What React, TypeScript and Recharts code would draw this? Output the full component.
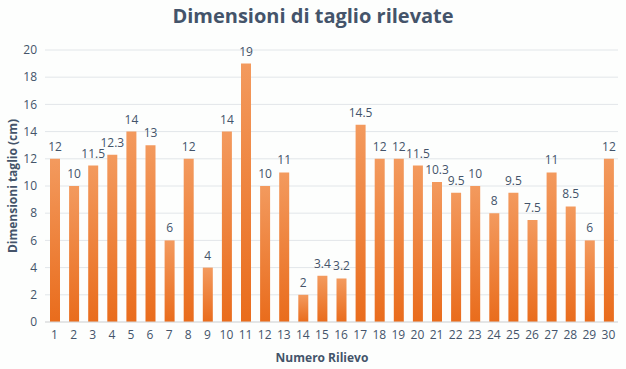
import React from "react";
import { BarChart, Bar, XAxis, YAxis, CartesianGrid, LabelList } from "recharts";

const rilievi = [
  "1", "2", "3", "4", "5", "6", "7", "8", "9", "10",
  "11", "12", "13", "14", "15", "16", "17", "18", "19", "20",
  "21", "22", "23", "24", "25", "26", "27", "28", "29", "30",
];
const dimensioni = [
  12, 10, 11.5, 12.3, 14, 13, 6, 12, 4, 14,
  19, 10, 11, 2, 3.4, 3.2, 14.5, 12, 12, 11.5,
  10.3, 9.5, 10, 8, 9.5, 7.5, 11, 8.5, 6, 12,
];
const yTicks = [0, 2, 4, 6, 8, 10, 12, 14, 16, 18, 20];

const data = rilievi.map((r, i) => ({ rilievo: r, valore: dimensioni[i] }));

const FONT = "'Open Sans', 'Noto Sans', sans-serif";
const TEXT = "#44546a";

export default function App() {
  return (
    <div
      style={{
        position: "fixed",
        left: 0,
        top: 0,
        width: 626,
        height: 369,
        background: "#fdfefd",
        fontFamily: FONT,
      }}
    >
      <div
        style={{
          position: "absolute",
          top: 2,
          width: "100%",
          textAlign: "center",
          fontSize: 20,
          fontWeight: 700,
          color: TEXT,
        }}
      >
        Dimensioni di taglio rilevate
      </div>
      <div
        style={{
          position: "absolute",
          left: 12,
          top: 186,
          transform: "translate(-50%, -50%) rotate(-90deg)",
          whiteSpace: "nowrap",
          fontSize: 12,
          fontWeight: 700,
          color: TEXT,
        }}
      >
        Dimensioni taglio (cm)
      </div>
      <div
        style={{
          position: "absolute",
          top: 349,
          width: "100%",
          paddingLeft: 18,
          boxSizing: "border-box",
          textAlign: "center",
          fontSize: 12,
          fontWeight: 700,
          color: TEXT,
        }}
      >
        Numero Rilievo
      </div>
      <BarChart
        width={626}
        height={369}
        data={data}
        margin={{ top: 50, right: 8, bottom: 22, left: 5 }}
        barSize={10}
        style={{ position: "absolute", left: 0, top: 0 }}
      >
        <defs>
          <linearGradient id="barFill" x1="0" y1="0" x2="0" y2="1">
            <stop offset="0%" stopColor="#f39a5e" />
            <stop offset="100%" stopColor="#e96c1c" />
          </linearGradient>
        </defs>
        <CartesianGrid vertical={false} stroke="#e2e6e9" />
        <XAxis
          dataKey="rilievo"
          interval={0}
          tickLine={false}
          axisLine={{ stroke: "#d9d9d9" }}
          tick={{ fill: TEXT, fontSize: 12 }}
          height={25}
        />
        <YAxis
          domain={[0, 20]}
          ticks={yTicks}
          tickLine={false}
          axisLine={false}
          tick={{ fill: TEXT, fontSize: 12 }}
          width={40}
        />
        <Bar dataKey="valore" fill="url(#barFill)" isAnimationActive={false}>
          <LabelList dataKey="valore" position="top" fill={TEXT} fontSize={12} offset={8} />
        </Bar>
      </BarChart>
    </div>
  );
}
